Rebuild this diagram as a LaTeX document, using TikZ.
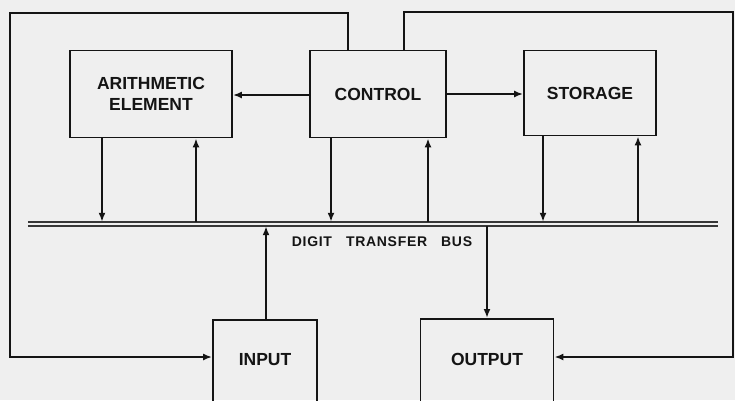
\documentclass[tikz,border=0pt]{standalone}
\usepackage{fontspec}
\setmainfont{Liberation Sans}
\usetikzlibrary{arrows.meta}
\definecolor{paper}{HTML}{EFEFEF}
\definecolor{ink}{HTML}{141414}
\begin{document}
\begin{tikzpicture}[x=1pt,y=-1pt,
  box/.style={draw=ink, line width=1.8pt, rectangle, inner sep=0pt, align=center,
    font=\fontsize{17.5}{21}\selectfont\bfseries, text=ink},
  link/.style={draw=ink, line width=2.8pt},
  thin/.style={draw=ink, line width=1.8pt},
  tip/.style={-{Latex[length=9pt,width=7pt]}},
  busline/.style={draw=ink!85, line width=1.8pt}]
\fill[paper] (0,0) rectangle (735,400);
\clip (0,0) rectangle (735,400);
\useasboundingbox (0,0) rectangle (735,400);
% blocks
\node[box, minimum width=162pt, minimum height=87pt] (arith) at (151,94) {ARITHMETIC\\ELEMENT};
\node[box, minimum width=136pt, minimum height=87pt] (ctrl) at (378,94) {CONTROL};
\node[box, minimum width=132pt, minimum height=85pt] (stor) at (590,93) {STORAGE};
\node[box, anchor=north, minimum width=104pt, text height=12.5pt, text depth=60pt, inner ysep=33pt] (inp) at (265,319) {INPUT};
\node[box, anchor=north, minimum width=133pt, text height=12.5pt, text depth=60pt, inner ysep=34pt] (outp) at (487,318) {OUTPUT};
% bus
\node[minimum width=690pt, minimum height=4pt, inner sep=0pt] (bus) at (373,224) {};
\draw[busline] (bus.north west) -- (bus.north east);
\draw[busline] (bus.south west) -- (bus.south east);
\node[font=\fontsize{14}{16}\selectfont\bfseries\addfontfeature{LetterSpace=5}, text=ink] (buslabel) at (382,242) {DIGIT\quad TRANSFER\quad BUS};
% columns
\coordinate (a1) at (102,0); \coordinate (a2) at (196,0);
\coordinate (c1) at (331,0); \coordinate (c2) at (428,0);
\coordinate (s1) at (543,0); \coordinate (s2) at (638,0);
\coordinate (i1) at (266,0); \coordinate (o1) at (487,0);
\draw[link,tip] (arith.south -| a1) -- (bus.north -| a1);
\draw[link,tip] (bus.north -| a2) -- (arith.south -| a2);
\draw[link,tip] (ctrl.south -| c1) -- (bus.north -| c1);
\draw[link,tip] (bus.north -| c2) -- (ctrl.south -| c2);
\draw[link,tip] (stor.south -| s1) -- (bus.north -| s1);
\draw[link,tip] (bus.north -| s2) -- (stor.south -| s2);
\draw[link,tip] (inp.north -| i1) -- (bus.south -| i1);
\draw[link,tip] (bus.south -| o1) -- (outp.north -| o1);
% control to arithmetic and storage
\coordinate (h1) at (0,95); \coordinate (h2) at (0,94);
\draw[thin,tip] (ctrl.west |- h1) -- (arith.east |- h1);
\draw[thin,tip] (ctrl.east |- h2) -- (stor.west |- h2);
% feedback loops
\coordinate (lt) at (348,13); \coordinate (ll) at (10,13); \coordinate (lb) at (10,357);
\draw[thin,tip] (ctrl.north -| lt) -- (lt) -- (ll) -- (lb) -- (inp.west |- lb);
\coordinate (rt) at (404,12); \coordinate (rr) at (733,12); \coordinate (rb) at (733,357);
\draw[thin,tip] (ctrl.north -| rt) -- (rt) -- (rr) -- (rb) -- (outp.east |- rb);
\end{tikzpicture}
\end{document}
